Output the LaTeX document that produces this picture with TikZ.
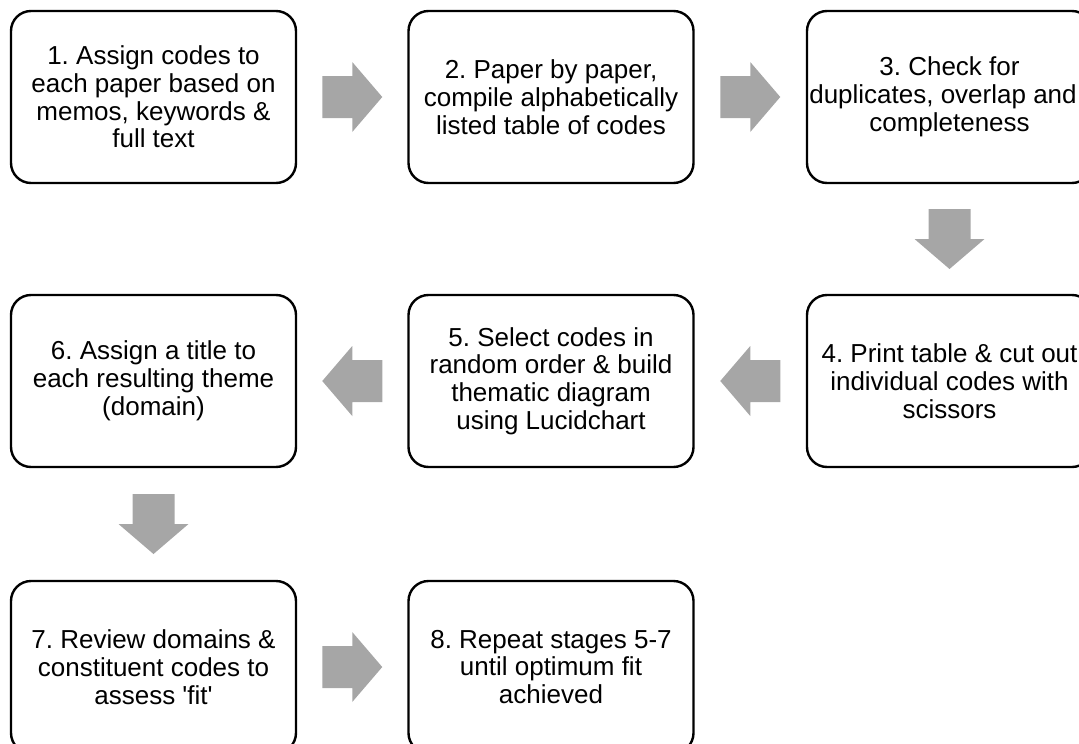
\documentclass[tikz,border=0pt]{standalone}
\usepackage{fontspec}
\setmainfont{Liberation Sans}
\usetikzlibrary{calc}
\definecolor{arrowgray}{RGB}{166,166,166}
% straight apostrophe, bypassing the TeX quote ligatures
\newcommand\sq{{\XeTeXglyph\XeTeXglyphindex "quotesingle"\relax}}
\tikzset{
  stagebox/.style={draw=black, line width=2.4pt, rounded corners=20pt,
    fill=white, minimum width=285pt, minimum height=172pt, inner sep=0pt,
    align=center, font=\frenchspacing\fontsize{26}{27.8}\selectfont},
  blockarrow/.style={fill=arrowgray, draw=none}
}
% block arrow centred on a named coordinate, turned by the given angle
\newcommand\blockarrowat[2]{%
  \fill[blockarrow, shift={(#1)}, rotate=#2]
    (-30,-21) -- (0,-21) -- (0,-35) -- (30,0) -- (0,35) -- (0,21) -- (-30,21) -- cycle;}
\begin{document}
\begin{tikzpicture}[x=1pt, y=-1pt]
\useasboundingbox (0,0) rectangle (1079,744);

% stages, row by row
\node[stagebox] (s1) at (153.5,97) {1. Assign codes to\\each paper based on\\memos, keywords \&\\full text};
\node[stagebox] (s2) at (551,97) {2. Paper by paper,\\compile alphabetically\\listed table of codes};
\node[stagebox] (s3) at (949.5,97) {3. Check for\\duplicates, overlap and\rule{13pt}{0pt}\\completeness};
\node[stagebox] (s4) at (949.5,381) {4. Print table \& cut out\\individual codes with\\scissors};
\node[stagebox] (s5) at (551,381) {5. Select codes in\\random order \& build\\thematic diagram\\using Lucidchart};
\node[stagebox] (s6) at (153.5,381) {6. Assign a title to\\each resulting theme\\(domain)};
\node[stagebox] (s7) at (153.5,667) {7. Review domains \&\\constituent codes to\\assess \sq fit\sq};
\node[stagebox] (s8) at (551,667) {8. Repeat stages 5-7\\until optimum fit\\achieved};

% block arrows midway between consecutive stages
\coordinate (a12) at ($(s1.east)!0.5!(s2.west)$);
\coordinate (a23) at ($(s2.east)!0.5!(s3.west)$);
\coordinate (a34) at ($(s3.south)!0.5!(s4.north)$);
\coordinate (a45) at ($(s4.west)!0.5!(s5.east)$);
\coordinate (a56) at ($(s5.west)!0.5!(s6.east)$);
\coordinate (a67) at ($(s6.south)!0.5!(s7.north)$);
\coordinate (a78) at ($(s7.east)!0.5!(s8.west)$);
\blockarrowat{a12}{0}
\blockarrowat{a23}{0}
\blockarrowat{a34}{-90}
\blockarrowat{a45}{180}
\blockarrowat{a56}{180}
\blockarrowat{a67}{-90}
\blockarrowat{a78}{0}
\end{tikzpicture}
\end{document}
